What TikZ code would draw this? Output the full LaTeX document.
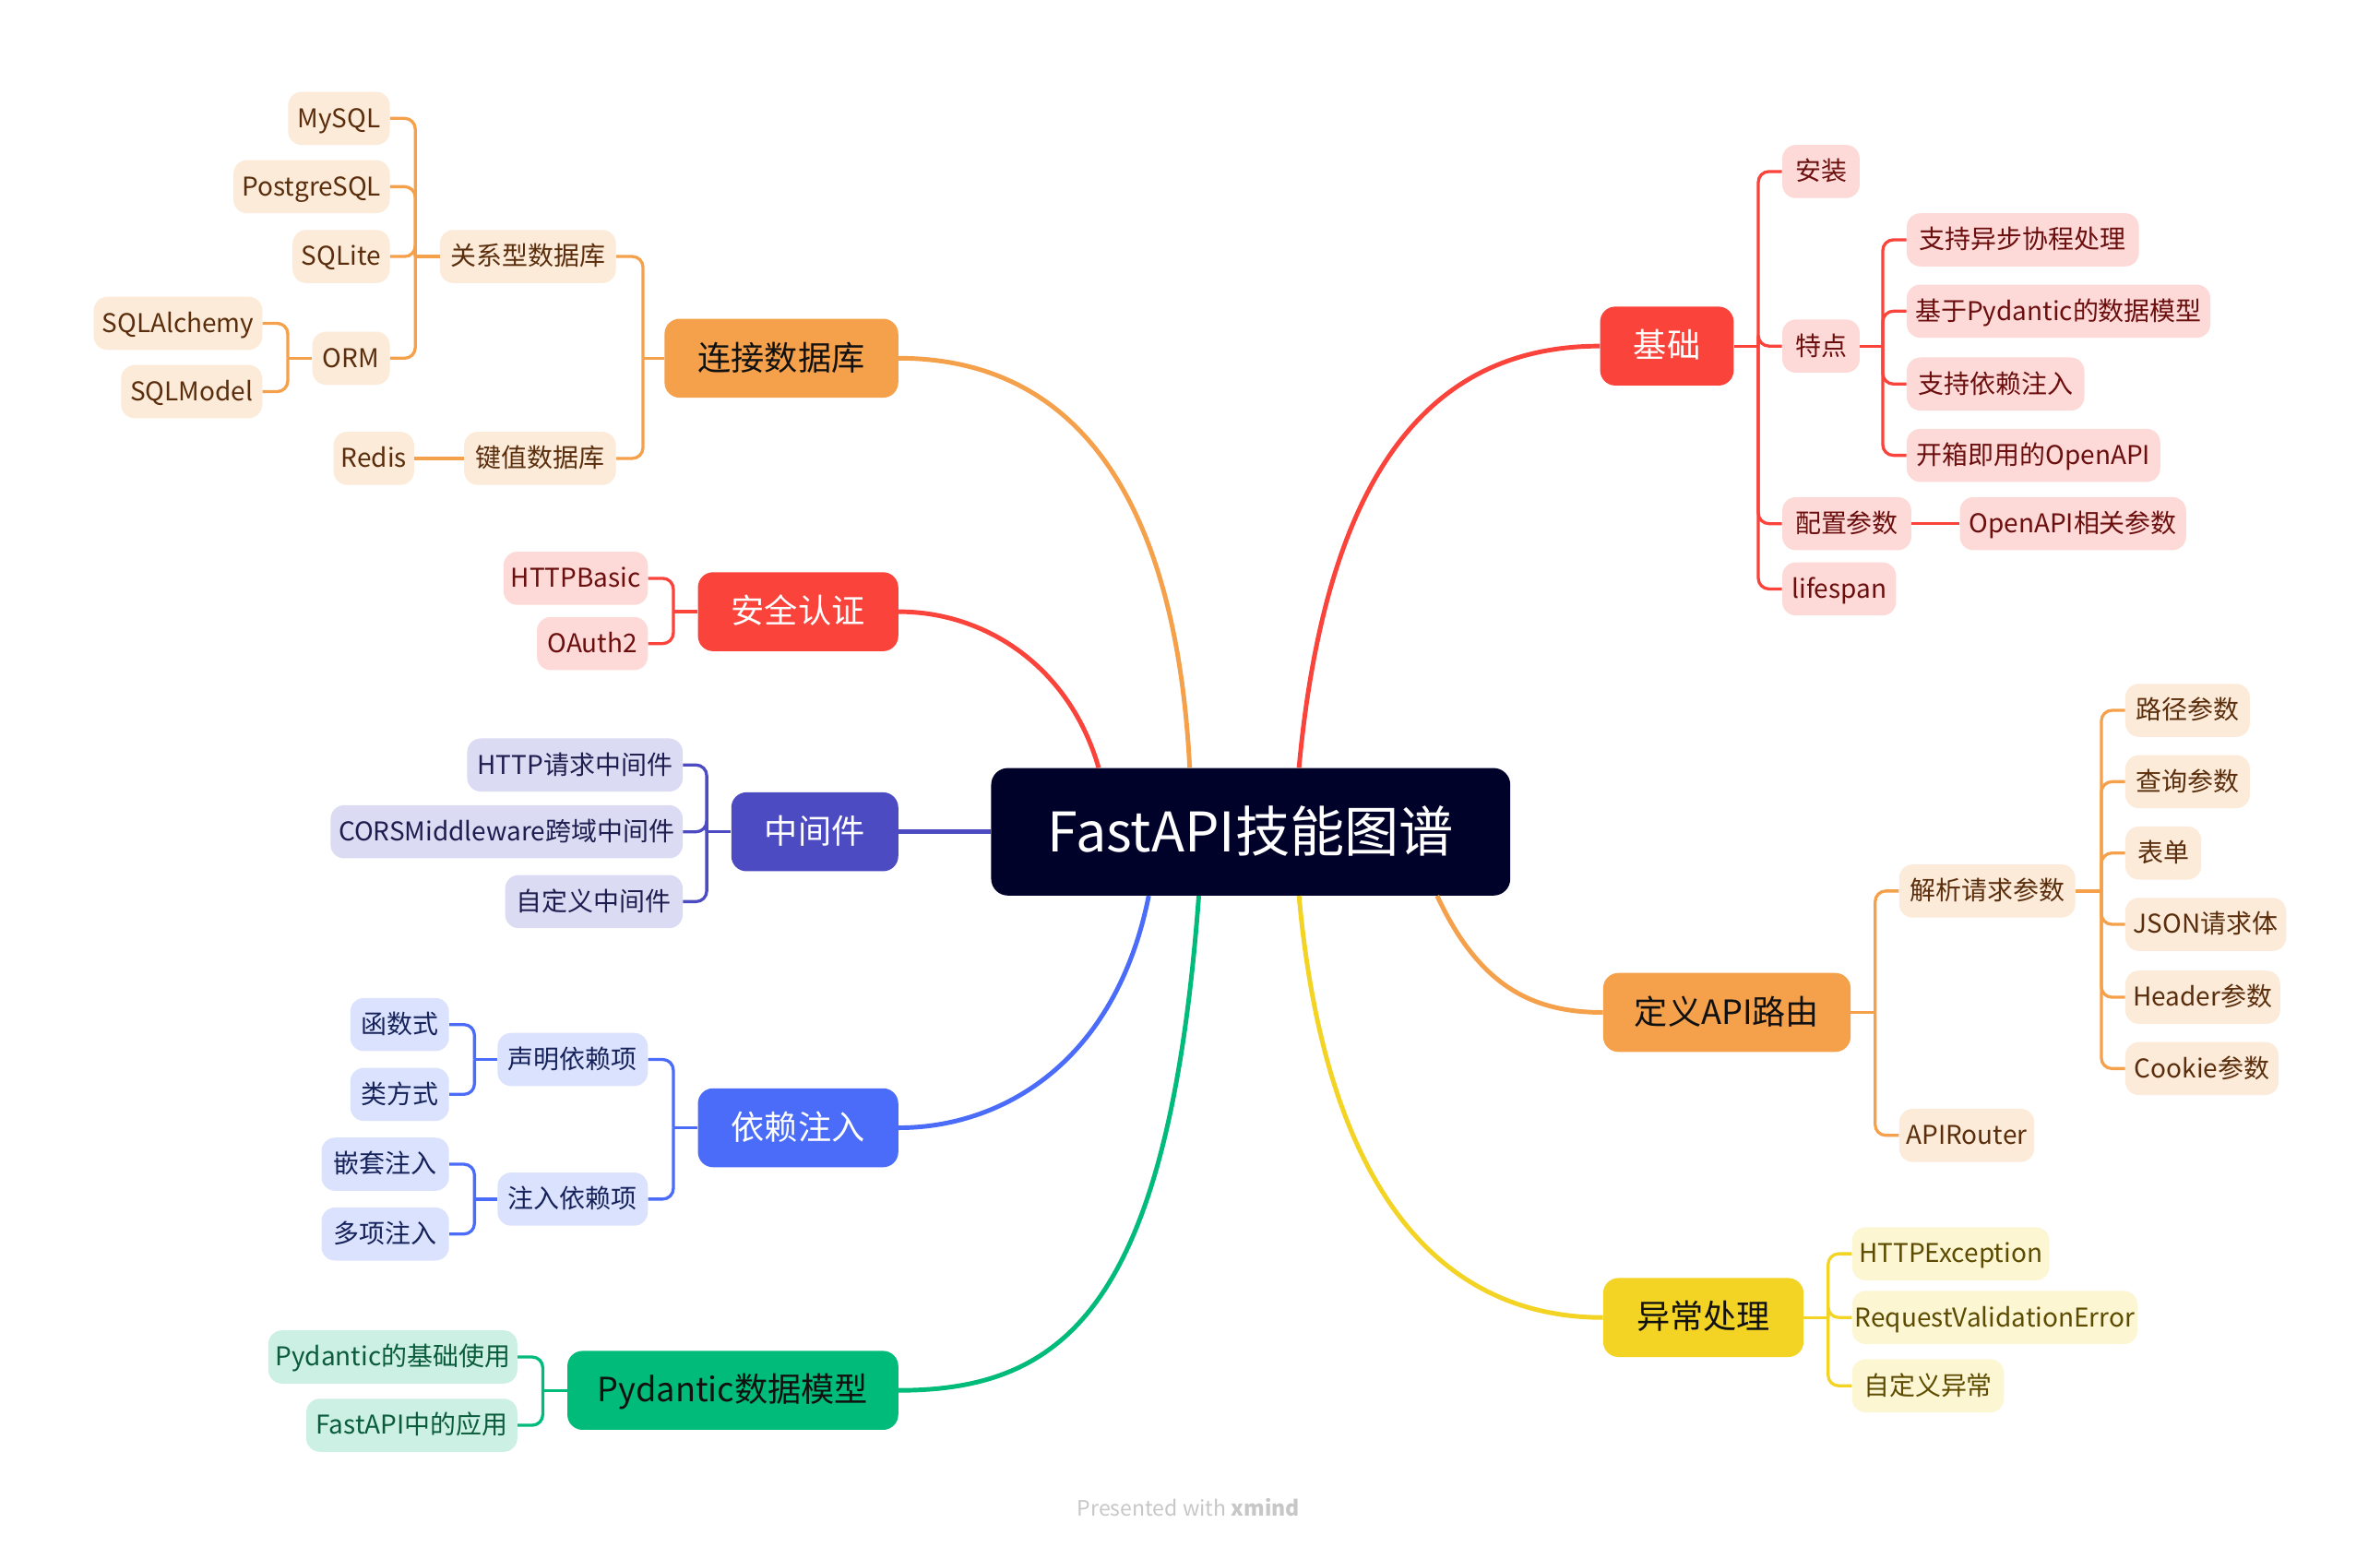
\documentclass[tikz,border=0pt]{standalone}
\usepackage{fontspec}
\setmainfont{Noto Sans CJK SC}
\definecolor{centerC}{HTML}{000229}
\definecolor{orgM}{HTML}{F5A14C}
\definecolor{orgL}{HTML}{FDEBDA}
\definecolor{orgT}{HTML}{5A2E0C}
\definecolor{redM}{HTML}{FA433A}
\definecolor{redL}{HTML}{FDD9D7}
\definecolor{redT}{HTML}{6B0E0E}
\definecolor{indM}{HTML}{4D4BC2}
\definecolor{indL}{HTML}{DBDBF3}
\definecolor{indT}{HTML}{1E1D4F}
\definecolor{bluM}{HTML}{4A6CF8}
\definecolor{bluL}{HTML}{DBE2FE}
\definecolor{bluT}{HTML}{16225A}
\definecolor{grnM}{HTML}{00BB7A}
\definecolor{grnL}{HTML}{CCF1E4}
\definecolor{grnT}{HTML}{0B5B3D}
\definecolor{ylwM}{HTML}{F3D323}
\definecolor{ylwL}{HTML}{FCF6D3}
\definecolor{ylwT}{HTML}{5C4B00}
\definecolor{footC}{HTML}{C7C7C7}
\definecolor{darkT}{HTML}{111111}
\tikzset{
  box/.style={rounded corners=9pt, inner sep=0pt, align=center},
  leaf/.style={box, minimum height=35pt, font=\fontsize{17}{20}\selectfont, text height=14pt, text depth=2pt},
  mainbox/.style={box, rounded corners=10pt, minimum height=52pt, font=\fontsize{22}{26}\selectfont, text height=18pt, text depth=2.5pt},
  lo/.style={leaf, fill=orgL, text=orgT},
  lr/.style={leaf, fill=redL, text=redT},
  li/.style={leaf, fill=indL, text=indT},
  lb/.style={leaf, fill=bluL, text=bluT},
  lg/.style={leaf, fill=grnL, text=grnT},
  ly/.style={leaf, fill=ylwL, text=ylwT},
  br/.style={line width=2pt, rounded corners=7pt},
  curve/.style={line width=3pt},
}
\begin{document}
\begin{tikzpicture}[x=1pt,y=-1pt]
\useasboundingbox (0,0) rectangle (1568,1018.6);
\fill[white] (0,0) rectangle (1568,1018.6);

% ---------- center ----------
\node[box, rounded corners=11pt, fill=centerC, text=white, minimum width=342pt, minimum height=84pt,
      font=\fontsize{36}{41}\selectfont, text height=29pt, text depth=3pt] (center) at (824,548) {FastAPI技能图谱};

% ---------- 连接数据库 ----------
\node[mainbox, fill=orgM, text=darkT, anchor=east, minimum width=154pt] (db) at (592,236) {连接数据库};
\node[lo, anchor=east, minimum width=116pt] (rel) at (406,169) {关系型数据库};
\node[lo, anchor=east, minimum width=67pt] (mysql) at (257,78) {MySQL};
\node[lo, anchor=east, minimum width=103pt] (pg) at (257,123) {PostgreSQL};
\node[lo, anchor=east, minimum width=64pt] (sqlite) at (257,169) {SQLite};
\node[lo, anchor=east, minimum width=51pt] (orm) at (257,236) {ORM};
\node[lo, anchor=east, minimum width=111pt] (sqla) at (173,213) {SQLAlchemy};
\node[lo, anchor=east, minimum width=93pt] (sqlm) at (173,258) {SQLModel};
\node[lo, anchor=east, minimum width=100pt] (kv) at (406,302) {键值数据库};
\node[lo, anchor=east, minimum width=53pt] (redis) at (273,302) {Redis};

% ---------- 安全认证 ----------
\node[mainbox, fill=redM, text=white, anchor=east, minimum width=132pt] (sec) at (592,403) {安全认证};
\node[lr, anchor=east, minimum width=95pt] (basic) at (427,381) {HTTPBasic};
\node[lr, anchor=east, minimum width=73pt] (oauth) at (427,424) {OAuth2};

% ---------- 中间件 ----------
\node[mainbox, fill=indM, text=white, anchor=east, minimum width=110pt] (mw) at (592,548) {中间件};
\node[li, anchor=east, minimum width=142pt] (mwa) at (450,504) {HTTP请求中间件};
\node[li, anchor=east, minimum width=232pt] (mwb) at (450,548) {CORSMiddleware跨域中间件};
\node[li, anchor=east, minimum width=117pt] (mwc) at (450,594) {自定义中间件};

% ---------- 依赖注入 ----------
\node[mainbox, fill=bluM, text=white, anchor=east, minimum width=132pt] (di) at (592,743) {依赖注入};
\node[lb, anchor=east, minimum width=99pt] (decl) at (427,698) {声明依赖项};
\node[lb, anchor=east, minimum width=65pt] (fn) at (296,675) {函数式};
\node[lb, anchor=east, minimum width=65pt] (cls) at (296,721) {类方式};
\node[lb, anchor=east, minimum width=99pt] (inj) at (427,790) {注入依赖项};
\node[lb, anchor=east, minimum width=84pt] (nest) at (296,767) {嵌套注入};
\node[lb, anchor=east, minimum width=84pt] (multi) at (296,813) {多项注入};

% ---------- Pydantic ----------
\node[mainbox, fill=grnM, text=darkT, anchor=east, minimum width=218pt] (pyd) at (592,916) {Pydantic数据模型};
\node[lg, anchor=east, minimum width=164pt] (pyda) at (341,894) {Pydantic的基础使用};
\node[lg, anchor=east, minimum width=139pt] (pydb) at (341,939) {FastAPI中的应用};

% ---------- 基础 ----------
\node[mainbox, fill=redM, text=white, anchor=west, minimum width=88pt] (base) at (1054,228) {基础};
\node[lr, anchor=west, minimum width=51pt] (inst) at (1174,113) {安装};
\node[lr, anchor=west, minimum width=51pt] (feat) at (1174,228) {特点};
\node[lr, anchor=west, minimum width=153pt] (fa) at (1256,158) {支持异步协程处理};
\node[lr, anchor=west, minimum width=200pt] (fb) at (1256,205) {基于Pydantic的数据模型};
\node[lr, anchor=west, minimum width=117pt] (fc) at (1256,253) {支持依赖注入};
\node[lr, anchor=west, minimum width=167pt] (fd) at (1256,300) {开箱即用的OpenAPI};
\node[lr, anchor=west, minimum width=85pt] (conf) at (1174,345) {配置参数};
\node[lr, anchor=west, minimum width=149pt] (oap) at (1291,345) {OpenAPI相关参数};
\node[lr, anchor=west, minimum width=75pt] (life) at (1174,388) {lifespan};

% ---------- 定义API路由 ----------
\node[mainbox, fill=orgM, text=darkT, anchor=west, minimum width=163pt] (route) at (1056,667) {定义API路由};
\node[lo, anchor=west, minimum width=116pt] (parse) at (1251,587) {解析请求参数};
\node[lo, anchor=west, minimum width=82pt] (pa) at (1400,468) {路径参数};
\node[lo, anchor=west, minimum width=82pt] (pb) at (1400,515) {查询参数};
\node[lo, anchor=west, minimum width=50pt] (pc) at (1400,562) {表单};
\node[lo, anchor=west, minimum width=106pt] (pdd) at (1400,609) {JSON请求体};
\node[lo, anchor=west, minimum width=102pt] (pe) at (1400,657) {Header参数};
\node[lo, anchor=west, minimum width=101pt] (pf) at (1400,704) {Cookie参数};
\node[lo, anchor=west, minimum width=89pt] (router) at (1251,748) {APIRouter};

% ---------- 异常处理 ----------
\node[mainbox, fill=ylwM, text=darkT, anchor=west, minimum width=132pt] (exc) at (1056,868) {异常处理};
\node[ly, anchor=west, minimum width=130pt] (ea) at (1220,826) {HTTPException};
\node[ly, anchor=west, minimum width=188pt] (eb) at (1220,868) {RequestValidationError};
\node[ly, anchor=west, minimum width=100pt] (ec) at (1220,913) {自定义异常};

% ---------- footer ----------
\node[text=footC, font=\fontsize{14}{16}\selectfont, inner sep=0pt] (foot) at (783,993) {Presented with \textbf{xmind}};

% ---------- main curves ----------
\draw[curve, orgM] ([xshift=131pt]center.north west) .. controls +(-9,-176) and +(118,0) .. (db.east);
\draw[curve, redM] ([xshift=71pt]center.north west) .. controls +(-19,-66) and +(58,0) .. (sec.east);
\draw[curve, indM] (center.west) -- (mw.east);
\draw[curve, bluM] ([xshift=104pt]center.south west) .. controls +(-22,110) and +(68,0) .. (di.east);
\draw[curve, grnM] ([xshift=137pt]center.south west) .. controls +(-20,270) and +(110,0) .. (pyd.east);
\draw[curve, redM] ([xshift=203pt]center.north west) .. controls +(19,-206) and +(-104,0) .. (base.west);
\draw[curve, orgM] ([xshift=294pt]center.south west) .. controls +(28,60) and +(-46,0) .. (route.west);
\draw[curve, ylwM] ([xshift=203pt]center.south west) .. controls +(19,210) and +(-96,0) .. (exc.west);

% ---------- brackets: left ----------
\draw[br, orgM] (db.west) -- ++(-14,0) coordinate (dbs);
\draw[br, orgM] (dbs) |- (rel.east);
\draw[br, orgM] (dbs) |- (kv.east);
\draw[br, orgM] (rel.west) -- ++(-16,0) coordinate (rels);
\draw[br, orgM] (rels) |- (mysql.east);
\draw[br, orgM] (rels) |- (pg.east);
\draw[br, orgM] (rels) |- (sqlite.east);
\draw[br, orgM] (rels) |- (orm.east);
\draw[br, orgM] (orm.west) -- ++(-16,0) coordinate (orms);
\draw[br, orgM] (orms) |- (sqla.east);
\draw[br, orgM] (orms) |- (sqlm.east);
\draw[br, orgM] (kv.west) -- (redis.east);

\draw[br, redM] (sec.west) -- ++(-16,0) coordinate (secs);
\draw[br, redM] (secs) |- (basic.east);
\draw[br, redM] (secs) |- (oauth.east);

\draw[br, indM] (mw.west) -- ++(-16,0) coordinate (mws);
\draw[br, indM] (mws) |- (mwa.east);
\draw[br, indM] (mws) |- (mwb.east);
\draw[br, indM] (mws) |- (mwc.east);

\draw[br, bluM] (di.west) -- ++(-16,0) coordinate (dis);
\draw[br, bluM] (dis) |- (decl.east);
\draw[br, bluM] (dis) |- (inj.east);
\draw[br, bluM] (decl.west) -- ++(-15,0) coordinate (decls);
\draw[br, bluM] (decls) |- (fn.east);
\draw[br, bluM] (decls) |- (cls.east);
\draw[br, bluM] (inj.west) -- ++(-15,0) coordinate (injs);
\draw[br, bluM] (injs) |- (nest.east);
\draw[br, bluM] (injs) |- (multi.east);

\draw[br, grnM] (pyd.west) -- ++(-16,0) coordinate (pyds);
\draw[br, grnM] (pyds) |- (pyda.east);
\draw[br, grnM] (pyds) |- (pydb.east);

% ---------- brackets: right ----------
\draw[br, redM] (base.east) -- ++(16,0) coordinate (bases);
\draw[br, redM] (bases) |- (inst.west);
\draw[br, redM] (bases) |- (feat.west);
\draw[br, redM] (bases) |- (conf.west);
\draw[br, redM] (bases) |- (life.west);
\draw[br, redM] (feat.east) -- ++(15,0) coordinate (feats);
\draw[br, redM] (feats) |- (fa.west);
\draw[br, redM] (feats) |- (fb.west);
\draw[br, redM] (feats) |- (fc.west);
\draw[br, redM] (feats) |- (fd.west);
\draw[br, redM] (conf.east) -- (oap.west);

\draw[br, orgM] (route.east) -- ++(16,0) coordinate (routes);
\draw[br, orgM] (routes) |- (parse.west);
\draw[br, orgM] (routes) |- (router.west);
\draw[br, orgM] (parse.east) -- ++(17,0) coordinate (parses);
\draw[br, orgM] (parses) |- (pa.west);
\draw[br, orgM] (parses) |- (pb.west);
\draw[br, orgM] (parses) |- (pc.west);
\draw[br, orgM] (parses) |- (pdd.west);
\draw[br, orgM] (parses) |- (pe.west);
\draw[br, orgM] (parses) |- (pf.west);

\draw[br, ylwM] (exc.east) -- ++(16,0) coordinate (excs);
\draw[br, ylwM] (excs) |- (ea.west);
\draw[br, ylwM] (excs) |- (eb.west);
\draw[br, ylwM] (excs) |- (ec.west);
\end{tikzpicture}
\end{document}
